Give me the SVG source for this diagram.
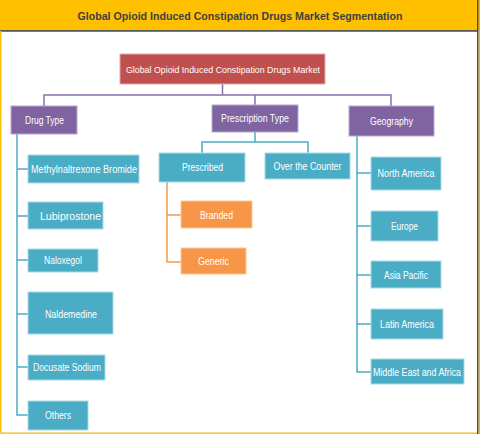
<svg xmlns="http://www.w3.org/2000/svg" width="480" height="434" viewBox="0 0 480 434">
<style>
text{font-family:"Liberation Sans",Arial,sans-serif;text-anchor:middle}
.t{font-size:10px;fill:#ffffff}
.r{font-size:9.5px}
.title{font-size:11.5px;font-weight:bold;fill:#404040}
.red{fill:#C0504D;stroke:#E6A9A7;stroke-width:1}
.pur{fill:#8064A2;stroke:#B9A8CF;stroke-width:1}
.teal{fill:#4BACC6;stroke:#A8DBE8;stroke-width:1}
.org{fill:#F79646;stroke:#FBC9A3;stroke-width:1}
.cp{fill:none;stroke:#8C6FB0;stroke-width:1.5}
.ct{fill:none;stroke:#4BACC6;stroke-width:1.5}
.co{fill:none;stroke:#F79646;stroke-width:1.5}
</style>
<rect x="0" y="0" width="480" height="434" fill="#ffffff"/>
<g id="frame">
<rect x="0" y="0" width="480" height="30.5" fill="#FFC000"/>
<rect x="0" y="30" width="478" height="1.8" fill="#595959"/>
<rect x="0" y="31" width="1.5" height="403" fill="#FFC000"/>
<rect x="0" y="432.3" width="480" height="1.7" fill="#F2C94C"/>
<rect x="477" y="0" width="1.6" height="434" fill="#4A4A55"/>
<rect x="478.6" y="0" width="1.4" height="434" fill="#E3B322"/>
<text class="title" x="240" y="20" textLength="325" lengthAdjust="spacingAndGlyphs">Global Opioid Induced Constipation Drugs Market Segmentation</text>
</g>
<g id="connectors">
<path class="cp" d="M222.5 84 V95 M44 106 V95 H391 V106 M255 95 V105"/>
<path class="ct" d="M17 134 V415 H28 M17 169 H28 M17 216 H28 M17 260 H28 M17 314 H28 M17 367 H28"/>
<path class="ct" d="M255 132 V142 M202 153 V142 H308 V153"/>
<path class="co" d="M167 182 V262 H181 M167 215 H181"/>
<path class="ct" d="M357 136 V372 H371 M357 173 H371 M357 226 H371 M357 275 H371 M357 324 H371"/>
</g>
<g id="root"><rect class="red" x="120" y="54" width="205" height="30"/><text class="t r" x="223" y="72.5" textLength="194" lengthAdjust="spacingAndGlyphs">Global Opioid Induced Constipation Drugs Market</text></g>
<g id="drug-type"><rect class="pur" x="11" y="106" width="66" height="28"/><text class="t" x="44.5" y="123.5" textLength="39" lengthAdjust="spacingAndGlyphs">Drug Type</text></g>
<g id="prescription-type"><rect class="pur" x="212" y="105" width="86" height="27"/><text class="t" x="255" y="122" textLength="68" lengthAdjust="spacingAndGlyphs">Prescription Type</text></g>
<g id="geography"><rect class="pur" x="349" y="106" width="85" height="30"/><text class="t" x="391.5" y="124.5" textLength="43" lengthAdjust="spacingAndGlyphs">Geography</text></g>
<g id="methylnaltrexone"><rect class="teal" x="28" y="155" width="111" height="28"/><text class="t" x="84" y="172.5" textLength="106" lengthAdjust="spacingAndGlyphs">Methylnaltrexone Bromide</text></g>
<g id="lubiprostone"><rect class="teal" x="28" y="202" width="75" height="27"/><text class="t" x="70.5" y="219.5" textLength="61" lengthAdjust="spacingAndGlyphs">Lubiprostone</text></g>
<g id="naloxegol"><rect class="teal" x="28" y="249" width="70" height="23"/><text class="t" x="63" y="264" textLength="38" lengthAdjust="spacingAndGlyphs">Naloxegol</text></g>
<g id="naldemedine"><rect class="teal" x="28" y="292" width="85" height="42"/><text class="t" x="71" y="317.5" textLength="52" lengthAdjust="spacingAndGlyphs">Naldemedine</text></g>
<g id="docusate"><rect class="teal" x="28" y="355" width="77" height="25"/><text class="t" x="67" y="371" textLength="68" lengthAdjust="spacingAndGlyphs">Docusate Sodium</text></g>
<g id="others"><rect class="teal" x="28" y="401" width="60" height="29"/><text class="t" x="58" y="418.5" textLength="26" lengthAdjust="spacingAndGlyphs">Others</text></g>
<g id="prescribed"><rect class="teal" x="159" y="153" width="86" height="29"/><text class="t" x="202.5" y="170.5" textLength="41" lengthAdjust="spacingAndGlyphs">Prescribed</text></g>
<g id="otc"><rect class="teal" x="265" y="153" width="85" height="26"/><text class="t" x="307.5" y="169.5" textLength="68" lengthAdjust="spacingAndGlyphs">Over the Counter</text></g>
<g id="branded"><rect class="org" x="181" y="201" width="71" height="27"/><text class="t" x="216.5" y="218.5" textLength="33" lengthAdjust="spacingAndGlyphs">Branded</text></g>
<g id="generic"><rect class="org" x="181" y="248" width="65" height="26"/><text class="t" x="213.5" y="265" textLength="31" lengthAdjust="spacingAndGlyphs">Generic</text></g>
<g id="north-america"><rect class="teal" x="371" y="157" width="70" height="33"/><text class="t" x="406" y="177" textLength="57" lengthAdjust="spacingAndGlyphs">North America</text></g>
<g id="europe"><rect class="teal" x="371" y="211" width="67" height="30"/><text class="t" x="404.5" y="230" textLength="27" lengthAdjust="spacingAndGlyphs">Europe</text></g>
<g id="asia-pacific"><rect class="teal" x="371" y="261" width="70" height="27"/><text class="t" x="406" y="278.5" textLength="44" lengthAdjust="spacingAndGlyphs">Asia Pacific</text></g>
<g id="latin-america"><rect class="teal" x="371" y="309" width="72" height="30"/><text class="t" x="407" y="328" textLength="54" lengthAdjust="spacingAndGlyphs">Latin America</text></g>
<g id="mea"><rect class="teal" x="371" y="359" width="93" height="25"/><text class="t" x="417" y="375.5" textLength="88" lengthAdjust="spacingAndGlyphs">Middle East and Africa</text></g>
</svg>
